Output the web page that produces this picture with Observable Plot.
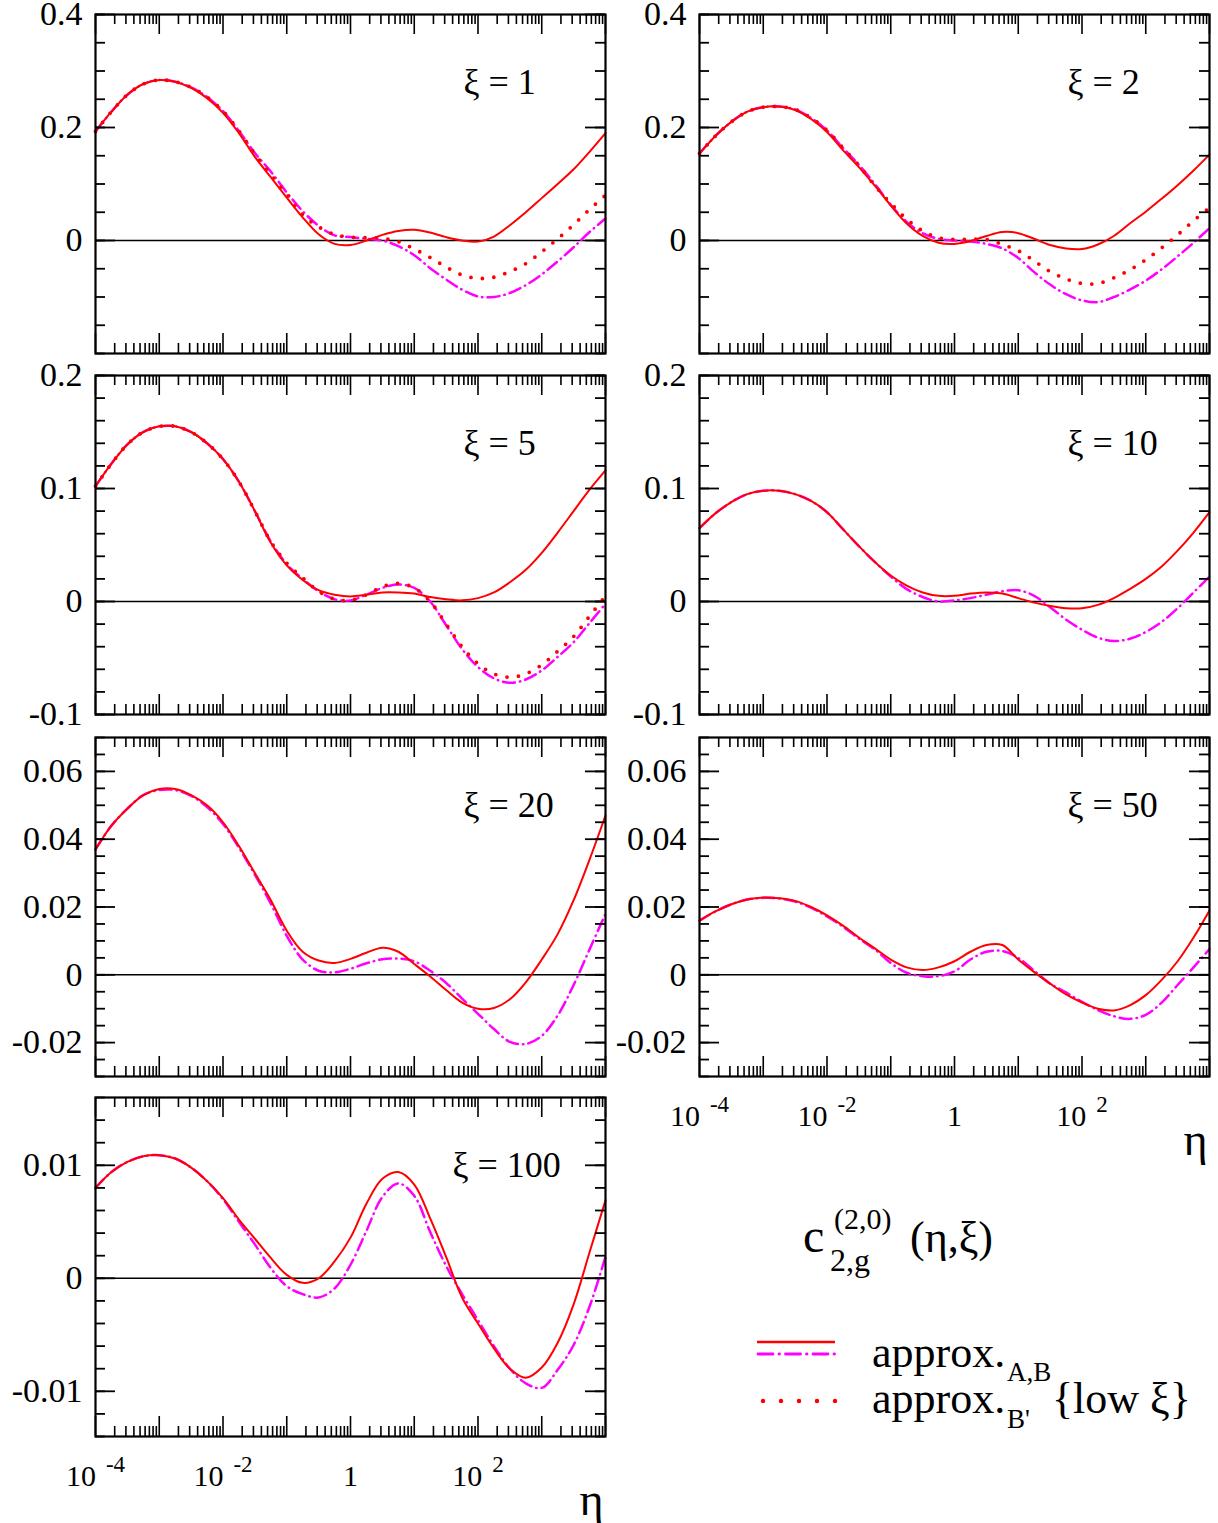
<!DOCTYPE html>
<html><head><meta charset="utf-8">
<script src="https://cdn.jsdelivr.net/npm/d3@7"></script>
<script src="https://cdn.jsdelivr.net/npm/@observablehq/plot@0.6"></script>
<style>
body{margin:0;background:#fff;}
#root{position:relative;width:1218px;height:1523px;overflow:hidden;font-family:"Liberation Serif","Times New Roman",serif;}
.panel{position:absolute;}
#overlay{position:absolute;left:0;top:0;}
</style></head><body><div id="root"></div>
<script>
// eta grid (quarter decades)
const eta = [1e-4,1.778e-4,3.162e-4,5.623e-4,1e-3,1.778e-3,3.162e-3,5.623e-3,1e-2,1.778e-2,3.162e-2,5.623e-2,0.1,0.1778,0.3162,0.5623,1,1.778,3.162,5.623,10,17.78,31.62,56.23,100,177.8,316.2,562.3,1000,1778,3162,5623,10000];

const xiValues = [1, 2, 5, 10, 20, 50, 100];

// approx A,B (red solid)
const solid1 = [0.193,0.228,0.258,0.277,0.284,0.281,0.270,0.252,0.226,0.190,0.148,0.112,0.076,0.041,0.011,-0.006,-0.008,0.000,0.010,0.017,0.019,0.014,0.006,0.000,-0.002,0.007,0.027,0.050,0.075,0.100,0.126,0.157,0.190];
const solid2 = [0.154,0.185,0.210,0.228,0.236,0.237,0.231,0.215,0.192,0.160,0.130,0.097,0.062,0.030,0.008,-0.004,-0.006,-0.001,0.008,0.015,0.013,0.003,-0.008,-0.014,-0.015,-0.007,0.008,0.030,0.051,0.074,0.098,0.124,0.152];
const solid5 = [0.102,0.122,0.139,0.150,0.155,0.155,0.150,0.140,0.126,0.106,0.080,0.052,0.032,0.019,0.010,0.006,0.0045,0.006,0.008,0.008,0.007,0.004,0.002,0.001,0.003,0.008,0.017,0.028,0.043,0.061,0.080,0.099,0.116];
const solid10 = [0.065,0.078,0.088,0.095,0.098,0.098,0.095,0.089,0.079,0.064,0.049,0.035,0.023,0.014,0.008,0.005,0.005,0.007,0.008,0.007,0.003,-0.001,-0.004,-0.006,-0.006,-0.003,0.003,0.011,0.020,0.031,0.045,0.061,0.079];
const solid20 = [0.037,0.044,0.049,0.053,0.0548,0.0548,0.053,0.050,0.045,0.038,0.030,0.022,0.013,0.0068,0.0042,0.0035,0.0047,0.0065,0.0080,0.0068,0.0032,-0.0005,-0.0045,-0.0082,-0.0100,-0.0098,-0.0072,-0.0022,0.0045,0.012,0.022,0.034,0.047];
const solid50 = [0.0160,0.0187,0.0208,0.0222,0.0228,0.0226,0.0218,0.0200,0.0175,0.0145,0.0110,0.0078,0.0045,0.0022,0.0014,0.0022,0.0040,0.0068,0.0088,0.0088,0.0045,0.0008,-0.0026,-0.0058,-0.0082,-0.0100,-0.0105,-0.0090,-0.0060,-0.0015,0.0040,0.0110,0.0190];
const solid100 = [0.0080,0.0094,0.0103,0.0108,0.0109,0.0106,0.0098,0.0086,0.0071,0.0052,0.0035,0.0018,0.0003,-0.0004,0.0000,0.0015,0.0036,0.0066,0.0088,0.0094,0.0083,0.0053,0.0019,-0.0017,-0.0040,-0.0062,-0.0080,-0.0088,-0.0079,-0.0057,-0.0023,0.0023,0.0069];

// approx A,B (magenta dash-dot)
const dash1 = [0.193,0.228,0.258,0.277,0.284,0.281,0.271,0.254,0.229,0.194,0.155,0.122,0.085,0.052,0.026,0.009,0.006,0.003,0.000,-0.010,-0.026,-0.049,-0.069,-0.087,-0.099,-0.100,-0.093,-0.079,-0.060,-0.037,-0.012,0.015,0.039];
const dash2 = [0.154,0.185,0.210,0.228,0.236,0.237,0.232,0.217,0.195,0.164,0.134,0.100,0.063,0.033,0.013,0.003,0.000,-0.002,-0.006,-0.014,-0.031,-0.056,-0.078,-0.095,-0.106,-0.109,-0.100,-0.087,-0.071,-0.051,-0.028,-0.004,0.022];
const dash5 = [0.102,0.122,0.139,0.150,0.155,0.155,0.150,0.140,0.126,0.106,0.080,0.053,0.033,0.020,0.009,0.002,0.001,0.006,0.012,0.015,0.012,0.000,-0.021,-0.042,-0.058,-0.068,-0.072,-0.069,-0.061,-0.049,-0.036,-0.019,-0.002];
const dash10 = [0.065,0.078,0.088,0.095,0.098,0.098,0.095,0.089,0.079,0.064,0.049,0.035,0.022,0.011,0.004,0.000,0.001,0.003,0.006,0.009,0.010,0.005,-0.005,-0.016,-0.025,-0.032,-0.035,-0.033,-0.027,-0.018,-0.006,0.008,0.022];
const dash20 = [0.037,0.044,0.049,0.053,0.0545,0.0545,0.0528,0.0495,0.0445,0.0375,0.0295,0.021,0.0115,0.0045,0.0012,0.0007,0.0018,0.0034,0.0046,0.0048,0.0040,0.0012,-0.0024,-0.0070,-0.0115,-0.0160,-0.0198,-0.0204,-0.0180,-0.0120,-0.0030,0.0075,0.018];
const dash50 = [0.0160,0.0187,0.0208,0.0222,0.0227,0.0225,0.0216,0.0198,0.0172,0.0142,0.0107,0.0075,0.0035,0.0006,-0.0004,-0.0004,0.0010,0.0045,0.0068,0.0070,0.0050,0.0012,-0.0026,-0.0052,-0.0080,-0.0104,-0.0122,-0.0130,-0.0118,-0.0082,-0.0030,0.0022,0.0076];
const dash100 = [0.0080,0.0094,0.0103,0.0108,0.0109,0.0106,0.0098,0.0086,0.0070,0.0050,0.0030,0.0009,-0.0007,-0.0014,-0.0017,-0.0009,0.0012,0.0042,0.0072,0.0084,0.0073,0.0041,0.0011,-0.0014,-0.0037,-0.0060,-0.0080,-0.0093,-0.0097,-0.0081,-0.0059,-0.0025,0.0019];

// approx B', low xi (red dotted)
const dot1 = [0.193,0.228,0.258,0.277,0.284,0.281,0.271,0.254,0.229,0.194,0.153,0.117,0.082,0.046,0.024,0.011,0.006,0.005,0.004,-0.002,-0.015,-0.030,-0.047,-0.061,-0.067,-0.065,-0.055,-0.041,-0.020,0.003,0.028,0.055,0.080];
const dot2 = [0.154,0.185,0.210,0.228,0.236,0.237,0.232,0.217,0.195,0.164,0.133,0.097,0.066,0.038,0.017,0.005,0.002,0.002,0.002,-0.007,-0.018,-0.036,-0.055,-0.068,-0.076,-0.076,-0.066,-0.052,-0.034,-0.013,0.010,0.035,0.058];
const dot5 = [0.102,0.122,0.139,0.150,0.155,0.155,0.150,0.140,0.126,0.106,0.080,0.053,0.034,0.021,0.009,0.002,0.001,0.006,0.013,0.016,0.012,0.000,-0.020,-0.040,-0.055,-0.064,-0.067,-0.064,-0.056,-0.044,-0.031,-0.013,0.005];

// y axes
const yDomains = {1:[-0.2,0.4], 2:[-0.2,0.4], 5:[-0.1,0.2], 10:[-0.1,0.2], 20:[-0.03,0.07], 50:[-0.03,0.07], 100:[-0.014,0.016]};
const yLabels = {1:[0,0.2,0.4], 2:[0,0.2,0.4], 5:[-0.1,0,0.1,0.2], 10:[-0.1,0,0.1,0.2], 20:[-0.02,0,0.02,0.04,0.06], 50:[-0.02,0,0.02,0.04,0.06], 100:[-0.01,0,0.01]};
const yLabelText = {1:["0","0.2","0.4"], 2:["0","0.2","0.4"], 5:["-0.1","0","0.1","0.2"], 10:["-0.1","0","0.1","0.2"], 20:["-0.02","0","0.02","0.04","0.06"], 50:["-0.02","0","0.02","0.04","0.06"], 100:["-0.01","0","0.01"]};
const yMinorStep = {1:0.05, 2:0.05, 5:0.02, 10:0.02, 20:0.005, 50:0.005, 100:0.002};

// x axis
const xDomain = [1e-4, 1e4];
const xLabelValues = [1e-4, 1e-2, 1, 1e2];
const xLabelText = ["10^-4", "10^-2", "1", "10^2"];

const series = {
  1:{solid:solid1, dash:dash1, dot:dot1},
  2:{solid:solid2, dash:dash2, dot:dot2},
  5:{solid:solid5, dash:dash5, dot:dot5},
  10:{solid:solid10, dash:dash10},
  20:{solid:solid20, dash:dash20},
  50:{solid:solid50, dash:dash50},
  100:{solid:solid100, dash:dash100}
};

// layout
const layout = {1:{col:0,row:0}, 2:{col:1,row:0}, 5:{col:0,row:1}, 10:{col:1,row:1}, 20:{col:0,row:2}, 50:{col:1,row:2,bottom:true}, 100:{col:0,row:3,bottom:true,labelDx:357}};
const frameTops = [14, 375, 737, 1097];
const colLeft = [95, 699];
const FW = 510, FH = 339;

const xMajor = d3.range(-4, 5).map(k => Math.pow(10, k));
const xMinor = [];
for (let k = -4; k < 4; k++) for (let m = 2; m <= 9; m++) xMinor.push(m * Math.pow(10, k));

const root = document.getElementById("root");
const FONT = "Liberation Serif, Times New Roman, serif";

function fixSup(svg) {
  svg.querySelectorAll("text").forEach(t => {
    const s = t.textContent;
    if (s.includes("^")) {
      const [base, sup] = s.split("^");
      while (t.firstChild) t.removeChild(t.firstChild);
      t.appendChild(document.createTextNode(base));
      const ts = document.createElementNS("http://www.w3.org/2000/svg", "tspan");
      ts.setAttribute("dx", "10");
      ts.setAttribute("dy", "-0.6em");
      ts.setAttribute("font-size", "23");
      ts.textContent = sup;
      t.appendChild(ts);
    }
  });
}

for (const xi of xiValues) {
  const L = layout[xi];
  const s = series[xi];
  const mL = 95, mR = 8, mT = 14, mB = L.bottom ? 100 : 10;
  const [y0, y1] = yDomains[xi];
  const step = yMinorStep[xi];
  const yMinor = [];
  for (let i = 0; ; i++) { const v = +(y0 + i * step).toFixed(6); if (v > y1 + 1e-9) break; yMinor.push(v); }
  const toData = arr => eta.map((e, i) => ({eta: e, v: arr[i]}));
  const labs = yLabels[xi], labTxt = yLabelText[xi];
  const marks = [
    Plot.ruleY([0], {stroke: "black", strokeWidth: 1.6}),
    s.dash ? Plot.line(toData(s.dash), {x: "eta", y: "v", stroke: "#ff00ff", strokeWidth: 2.5, strokeDasharray: "12,5,0.5,5", strokeLinecap: "round", curve: "catmull-rom"}) : null,
    s.dot ? Plot.line(toData(s.dot), {x: "eta", y: "v", stroke: "#ff0000", strokeWidth: 3.8, strokeDasharray: "0,11.5", strokeLinecap: "round", curve: "catmull-rom"}) : null,
    Plot.line(toData(s.solid), {x: "eta", y: "v", stroke: "#ff0000", strokeWidth: 2, curve: "catmull-rom"}),
    Plot.tickX(xMajor, {x: d => d, stroke: "black", strokeWidth: 1.6, insetTop: FH - 20}),
    Plot.tickX(xMajor, {x: d => d, stroke: "black", strokeWidth: 1.6, insetBottom: FH - 20}),
    Plot.tickX(xMinor, {x: d => d, stroke: "black", strokeWidth: 1.6, insetTop: FH - 10}),
    Plot.tickX(xMinor, {x: d => d, stroke: "black", strokeWidth: 1.6, insetBottom: FH - 10}),
    Plot.tickY(labs, {y: d => d, stroke: "black", strokeWidth: 1.8, insetRight: FW - 20}),
    Plot.tickY(labs, {y: d => d, stroke: "black", strokeWidth: 1.8, insetLeft: FW - 20}),
    Plot.tickY(yMinor, {y: d => d, stroke: "black", strokeWidth: 1.8, insetRight: FW - 10}),
    Plot.tickY(yMinor, {y: d => d, stroke: "black", strokeWidth: 1.8, insetLeft: FW - 10}),
    Plot.frame({stroke: "black", strokeWidth: 2.2}),
    Plot.axisY(labs, {label: null, tickSize: 0, tickPadding: 13, fontSize: 34, tickFormat: d => labTxt[labs.indexOf(d)]}),
    L.bottom ? Plot.axisX(xLabelValues, {label: null, tickSize: 0, tickPadding: 28, fontSize: 30, tickFormat: d => xLabelText[xLabelValues.indexOf(d)]}) : null,
    Plot.text([`ξ = ${xi}`], {frameAnchor: "top-left", dx: L.labelDx ?? 368, dy: 68, lineAnchor: "middle", textAnchor: "start", fontSize: 36}),
    L.bottom ? Plot.text(["η"], {frameAnchor: "bottom-right", dx: -2, dy: 64, lineAnchor: "middle", textAnchor: "end", fontSize: 46}) : null
  ].filter(Boolean);
  const svg = Plot.plot({
    width: mL + FW + mR,
    height: mT + FH + mB,
    marginLeft: mL, marginRight: mR, marginTop: mT, marginBottom: mB,
    x: {type: "log", domain: xDomain, axis: null},
    y: {domain: [y0, y1], axis: null},
    style: {fontFamily: FONT, fontSize: "32px", color: "black", background: "transparent", overflow: "visible"},
    marks
  });
  fixSup(svg);
  svg.classList.add("panel");
  svg.style.position = "absolute";
  svg.style.left = (colLeft[L.col] - mL) + "px";
  svg.style.top = (frameTops[L.row] - mT) + "px";
  root.appendChild(svg);
}

// caption + legend overlay
const ov = d3.select(root).append("svg").attr("id", "overlay").attr("width", 1218).attr("height", 1523)
  .style("font-family", FONT).style("position", "absolute");
const txt = (x, y, size, s) => ov.append("text").attr("x", x).attr("y", y).attr("font-size", size).attr("fill", "black").text(s);
txt(803, 1252, 48, "c");
txt(834, 1229, 30, "(2,0)");
txt(830, 1271, 32, "2,g");
txt(910, 1252, 44, "(η,ξ)");
ov.append("line").attr("x1", 757).attr("x2", 835).attr("y1", 1342).attr("y2", 1342).attr("stroke", "#ff0000").attr("stroke-width", 2.5);
ov.append("line").attr("x1", 758).attr("x2", 835).attr("y1", 1354).attr("y2", 1354).attr("stroke", "#ff00ff").attr("stroke-width", 2.8)
  .attr("stroke-dasharray", "15,6,0.5,6").attr("stroke-linecap", "round");
ov.append("line").attr("x1", 763).attr("x2", 836).attr("y1", 1401).attr("y2", 1401).attr("stroke", "#ff0000").attr("stroke-width", 4.5)
  .attr("stroke-dasharray", "0,18").attr("stroke-linecap", "round");
txt(872, 1367, 44, "approx.");
txt(1007, 1381, 27, "A,B");
txt(872, 1413, 44, "approx.");
txt(1007, 1428, 27, "B'");
txt(1052, 1413, 44, "{low ξ}");
</script>
</body></html>
